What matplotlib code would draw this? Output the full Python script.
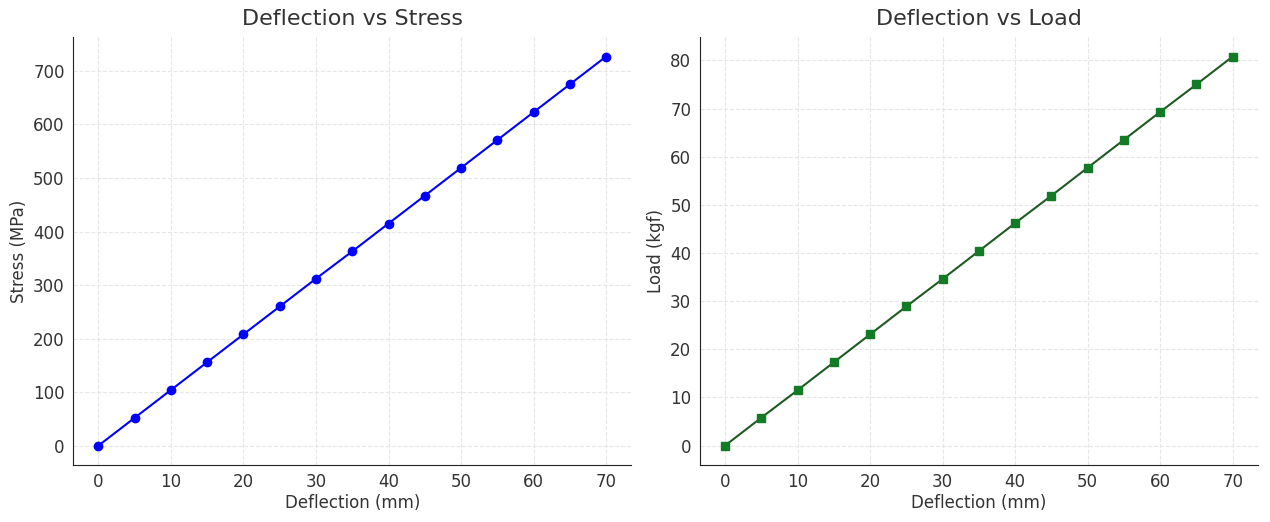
import numpy as np
import matplotlib
matplotlib.use('Agg')
import matplotlib.pyplot as plt

# values
deflection = [0, 5, 10, 15, 20, 25, 30, 35, 40, 45, 50, 55, 60, 65, 70]
stress = [0, 52, 104, 156, 208, 260, 312, 363, 415, 467, 519, 571, 623, 675, 727]
load = [0, 5.8, 11.5, 17.3, 23.1, 28.9, 34.6, 40.4, 46.2, 51.9, 57.7, 63.5, 69.3, 75.0, 80.8]

text_col = '#333333'
plt.rcParams['text.color'] = text_col
plt.rcParams['axes.labelcolor'] = text_col
plt.rcParams['xtick.color'] = text_col
plt.rcParams['ytick.color'] = text_col

fig, axs = plt.subplots(1, 2, figsize=(12.7, 5.22), dpi=100)
fig.subplots_adjust(left=0.0575, right=0.9906, top=0.929, bottom=0.109, wspace=0.122)

axs[0].plot(deflection, stress, color='blue', marker='o', markersize=6, linewidth=1.5)
axs[0].set_title('Deflection vs Stress', fontsize=16, pad=9)
axs[0].set_xlabel('Deflection (mm)', fontsize=12, labelpad=2)
axs[0].set_ylabel('Stress (MPa)', fontsize=12)

axs[1].plot(deflection, load, color='#1f5a22', marker='s', markersize=6, linewidth=1.5,
            markerfacecolor='#137a25', markeredgecolor='#137a25')
axs[1].set_title('Deflection vs Load', fontsize=16, pad=9)
axs[1].set_xlabel('Deflection (mm)', fontsize=12, labelpad=2)
axs[1].set_ylabel('Load (kgf)', fontsize=12)

for ax in axs:
    ax.spines['top'].set_visible(False)
    ax.spines['right'].set_visible(False)
    ax.spines['left'].set_color('#222222')
    ax.spines['bottom'].set_color('#222222')
    ax.grid(True, linestyle='--', color='#e6e6e6', linewidth=0.8)
    ax.tick_params(length=0, labelsize=12, pad=6)
    ax.set_xticks(np.arange(0, 71, 10))

fig.savefig('out.png')
